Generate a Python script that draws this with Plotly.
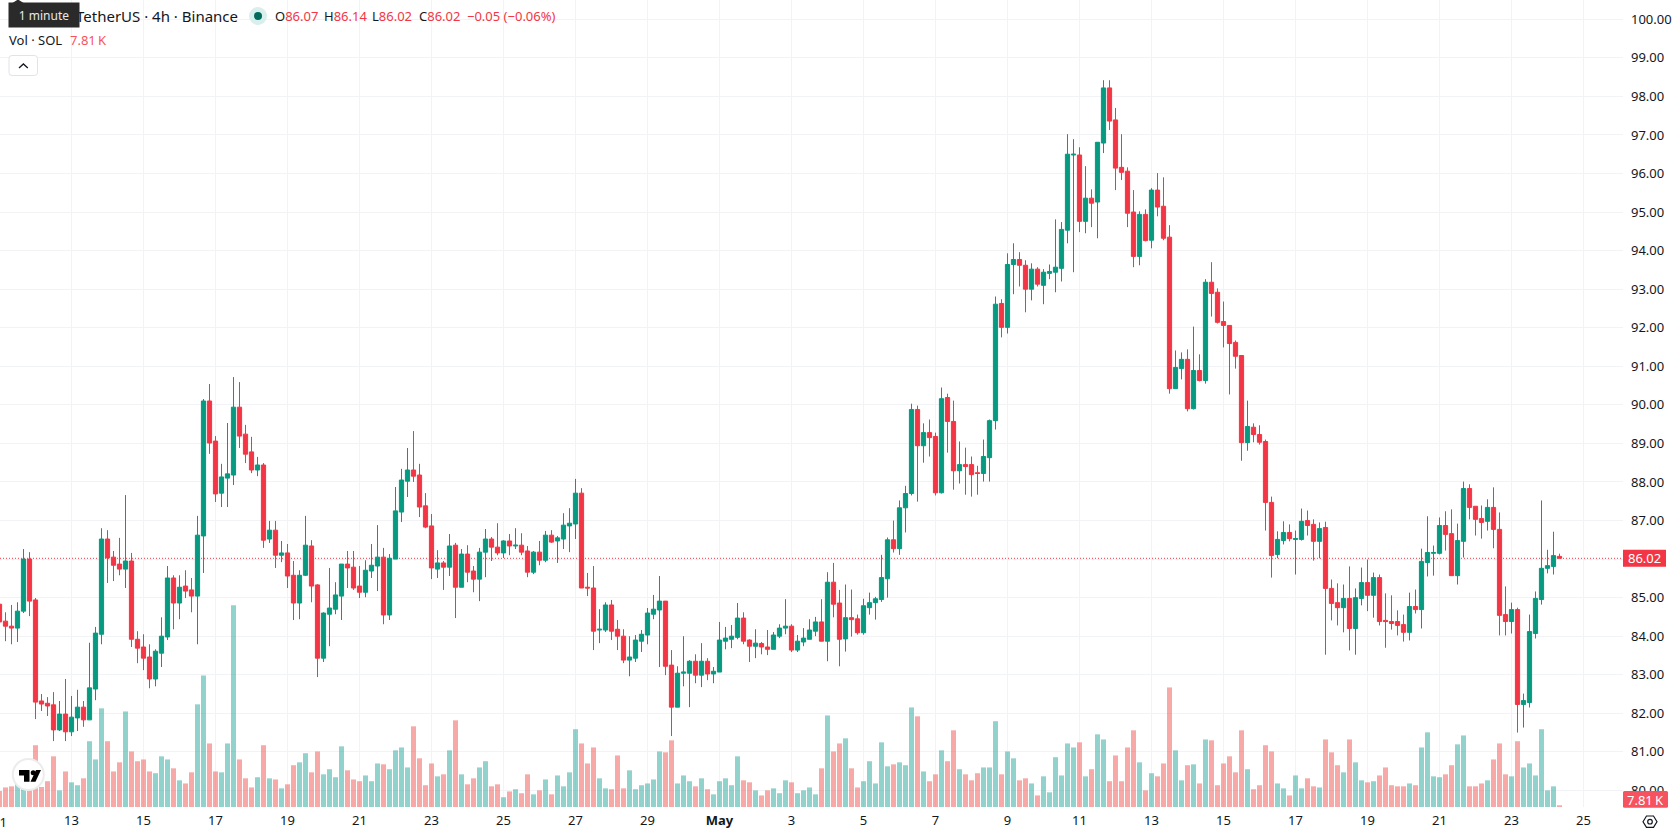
import pandas as pd
import plotly.graph_objects as go

# 4h candles for SOL/USDT, oldest first
OPEN = [
    84.83,84.39,84.26,84.21,84.65,86.00,84.94,82.32,82.26,82.22,
    81.57,81.98,81.52,81.88,82.16,81.83,82.63,84.05,86.52,86.05,
    85.87,85.74,85.95,83.92,83.72,83.46,82.89,83.56,83.98,85.51,
    84.86,85.30,85.20,85.04,86.60,90.10,89.06,87.71,88.10,88.18,
    89.94,89.24,88.78,88.31,88.44,86.52,86.75,86.10,86.16,85.58,
    84.86,85.58,86.34,85.33,83.43,84.57,84.70,85.04,85.87,85.79,
    85.30,85.14,85.69,85.82,86.05,84.55,86.00,87.22,88.02,88.31,
    88.18,87.38,86.86,85.74,85.90,85.79,86.36,85.27,86.13,85.69,
    85.48,86.18,86.52,86.31,86.16,86.47,86.34,86.36,86.21,85.66,
    86.18,85.97,86.62,86.47,86.52,86.86,86.91,87.71,85.27,85.25,
    84.16,84.16,84.81,84.18,84.00,83.38,83.43,83.87,84.03,84.57,
    84.68,84.91,83.25,82.16,83.04,83.04,83.35,82.99,83.35,83.02,
    83.07,83.87,83.92,83.97,84.47,83.90,83.74,83.81,83.72,83.66,
    84.00,84.21,84.26,83.64,83.85,83.92,84.13,84.37,83.87,85.40,
    84.86,83.93,84.48,84.45,84.09,84.74,84.87,84.95,85.49,86.50,
    86.27,87.33,87.70,89.88,88.94,89.28,89.18,87.72,90.19,89.57,
    88.29,88.45,88.45,88.24,88.22,88.63,89.59,92.63,92.01,93.64,
    93.77,93.62,93.00,93.52,93.10,93.41,93.44,93.54,94.53,96.48,
    96.48,94.76,95.36,95.26,96.79,98.22,97.39,96.16,96.06,95.00,
    93.85,94.94,94.27,95.57,95.15,94.35,90.42,90.94,91.18,89.90,
    90.89,90.63,93.18,92.92,92.16,92.06,91.62,91.28,89.02,89.42,
    89.23,89.05,87.47,86.12,86.48,86.69,86.51,86.51,87.00,86.90,
    86.46,86.82,85.24,84.87,84.74,84.98,84.20,84.98,85.39,85.06,
    85.52,84.41,84.38,84.38,84.30,84.10,84.77,84.69,85.91,86.15,
    86.15,86.87,86.66,85.57,86.46,87.83,87.37,87.05,86.98,87.34,
    86.77,84.56,84.38,84.69,82.23,82.28,84.07,84.95,85.76,85.81,
    86.07,
]
HIGH = [
    84.85,84.62,84.81,84.88,86.26,86.18,84.99,82.50,82.42,82.55,
    82.32,82.89,82.45,82.61,82.32,83.83,84.24,86.80,86.75,86.21,
    86.55,87.66,86.16,84.13,84.05,83.79,83.66,84.49,85.82,85.58,
    85.58,85.71,85.51,87.12,90.15,90.54,89.19,88.47,89.53,90.72,
    90.59,89.48,89.17,88.65,88.49,86.99,86.99,86.47,86.39,85.95,
    85.71,87.12,86.49,85.35,84.62,85.77,85.40,85.87,86.21,86.21,
    85.82,85.97,86.39,86.88,86.29,86.13,87.87,88.34,88.88,89.32,
    88.47,87.71,87.17,86.23,85.95,86.65,86.42,86.26,86.36,85.82,
    86.29,86.78,86.57,86.93,86.49,86.65,86.80,86.67,86.34,86.21,
    86.47,86.73,86.75,86.60,87.19,87.32,88.08,87.84,85.64,85.82,
    84.70,84.88,84.94,84.42,84.18,84.00,84.03,84.16,84.73,85.07,
    85.56,84.91,83.64,83.22,84.00,83.38,83.53,83.82,83.43,83.20,
    84.37,84.24,84.29,84.86,84.62,83.92,84.18,83.85,84.16,84.11,
    84.31,84.96,84.31,84.03,84.21,84.44,84.50,84.96,85.66,85.90,
    85.20,85.34,85.21,84.56,84.97,85.13,85.02,86.11,86.56,87.00,
    87.52,87.90,90.03,89.98,89.52,89.62,89.28,90.45,90.29,90.11,
    89.05,88.89,88.66,88.42,89.10,89.62,92.81,92.74,93.93,94.19,
    93.96,93.75,93.67,93.57,93.52,93.64,94.81,94.74,97.02,96.89,
    96.68,96.19,95.59,96.81,98.42,98.42,97.70,97.02,96.16,95.57,
    95.02,95.07,95.62,96.01,95.90,94.66,91.41,91.36,91.44,92.03,
    91.31,93.26,93.70,93.02,92.68,92.06,91.67,91.28,90.11,89.52,
    89.47,89.10,87.62,86.72,86.98,86.90,86.74,87.31,87.26,87.03,
    86.95,86.97,85.47,85.37,85.34,85.81,85.24,85.78,85.99,85.65,
    85.60,85.11,85.06,84.67,84.56,85.13,85.21,86.27,87.11,86.35,
    87.08,87.24,87.29,86.92,88.01,87.94,87.37,87.39,87.55,87.86,
    87.21,85.29,84.87,84.74,82.51,84.56,85.16,87.52,86.24,86.71,
    86.14,
]
LOW = [
    84.30,83.87,83.79,83.85,84.60,84.52,81.85,82.06,81.93,81.28,
    81.54,81.28,81.41,81.54,81.65,81.83,82.34,83.79,85.38,85.43,
    85.58,85.25,83.72,83.30,83.12,82.65,82.70,83.20,83.90,84.18,
    84.44,84.99,84.62,83.79,85.64,88.73,87.48,87.35,87.35,87.92,
    88.88,88.49,88.23,88.15,86.29,86.42,85.77,85.92,85.25,84.42,
    84.44,85.56,84.88,82.94,83.33,83.74,84.57,84.42,85.25,85.20,
    84.99,85.01,85.51,85.17,84.31,84.42,86.00,86.96,87.61,88.00,
    87.09,86.80,85.48,85.51,85.20,85.56,84.47,85.27,85.40,85.14,
    84.91,85.53,85.95,86.10,86.03,86.10,86.26,86.10,85.53,85.61,
    85.84,85.92,86.42,85.90,86.26,86.18,86.52,85.25,85.04,83.64,
    83.82,84.11,83.90,83.64,83.30,82.96,83.33,83.59,83.79,84.44,
    83.20,82.99,81.41,82.16,82.70,82.16,82.78,82.68,82.86,82.78,
    83.07,83.66,83.69,83.92,83.79,83.33,83.43,83.53,83.51,83.66,
    83.95,84.05,83.59,83.59,83.74,83.92,84.00,83.87,83.35,84.49,
    83.22,83.60,83.99,84.04,84.04,84.56,84.43,84.89,85.00,86.17,
    86.11,86.69,87.65,87.49,88.50,88.66,87.65,87.70,88.76,87.80,
    87.96,87.67,87.62,87.67,88.01,88.01,89.36,91.75,91.85,92.87,
    93.07,92.40,92.71,93.07,92.61,93.26,92.92,93.20,94.19,93.44,
    94.48,94.45,94.61,94.32,96.53,97.13,95.57,95.83,94.61,93.57,
    93.62,94.24,94.06,94.89,94.27,90.29,90.42,90.66,89.83,89.88,
    90.61,90.55,92.29,92.11,91.49,90.27,90.94,88.55,88.81,89.03,
    88.97,86.74,85.52,86.02,86.38,86.46,85.60,86.48,86.61,85.96,
    86.02,83.52,84.41,84.28,84.10,83.63,83.52,84.80,84.65,84.48,
    84.28,83.70,84.17,84.02,83.86,83.89,84.59,84.20,85.55,85.57,
    86.12,86.22,85.57,85.34,86.04,87.03,86.61,86.53,86.74,86.28,
    84.02,84.02,84.07,81.50,81.63,82.15,83.94,84.82,85.63,85.60,
    86.02,
]
CLOSE = [
    84.37,84.26,84.21,84.65,86.00,84.91,82.29,82.24,82.19,81.57,
    81.98,81.52,81.90,82.16,81.83,82.66,84.08,86.52,86.03,85.84,
    85.74,85.95,83.92,83.69,83.43,82.89,83.61,84.00,85.51,84.86,
    85.27,85.17,85.04,86.62,90.10,89.01,87.69,88.13,88.21,89.94,
    89.19,88.72,88.31,88.44,86.49,86.75,86.10,86.16,85.56,84.86,
    85.58,86.36,85.30,83.43,84.60,84.73,85.07,85.87,85.77,85.25,
    85.14,85.71,85.84,86.05,84.55,86.02,87.25,88.05,88.31,88.15,
    87.35,86.83,85.77,85.90,85.79,86.34,85.27,86.13,85.66,85.48,
    86.18,86.52,86.31,86.16,86.47,86.34,86.36,86.18,85.66,86.18,
    85.97,86.62,86.44,86.55,86.88,86.93,87.71,85.25,85.25,84.13,
    84.18,84.81,84.13,84.00,83.38,83.46,83.90,84.05,84.60,84.70,
    84.91,83.22,82.16,83.04,83.07,83.35,82.99,83.35,83.02,83.09,
    83.90,83.95,84.00,84.47,83.87,83.74,83.82,83.72,83.66,84.03,
    84.21,84.26,83.64,83.87,83.95,84.16,84.37,83.87,85.40,84.83,
    83.92,84.48,84.43,84.09,84.79,84.87,84.97,85.52,86.50,86.27,
    87.33,87.70,89.88,88.94,89.28,89.15,87.72,90.16,89.57,88.29,
    88.45,88.40,88.19,88.22,88.66,89.59,92.61,92.01,93.64,93.77,
    93.62,93.00,93.52,93.13,93.44,93.46,93.57,94.55,96.50,96.50,
    94.76,95.36,95.23,96.81,98.22,97.36,96.14,96.03,94.97,93.85,
    94.94,94.26,95.57,95.13,94.32,90.42,90.97,91.18,89.90,90.89,
    90.63,93.18,92.89,92.14,92.06,91.59,91.26,89.02,89.44,89.23,
    89.03,87.47,86.09,86.51,86.69,86.53,86.53,86.98,86.87,86.46,
    86.79,85.24,84.85,84.74,84.98,84.20,85.00,85.39,85.06,85.52,
    84.38,84.38,84.33,84.28,84.10,84.77,84.69,85.94,86.17,86.17,
    86.87,86.64,85.57,86.48,87.83,87.34,87.03,86.95,87.34,86.77,
    84.54,84.38,84.69,82.23,82.33,84.12,84.98,85.76,85.83,86.09,
    86.02,
]
# Volume per candle, thousands of SOL
VOLUME_K = [
    72,88,93,105,90,98,278,90,116,228,
    75,160,111,98,129,296,214,444,296,160,
    201,430,250,206,214,160,152,228,214,174,
    120,106,156,462,592,286,160,156,286,908,
    214,129,88,134,278,129,124,84,102,188,
    201,242,156,250,147,170,134,273,165,124,
    116,142,116,196,192,170,255,268,178,363,
    219,98,196,138,147,255,390,147,102,129,
    178,206,93,102,44,70,80,62,147,57,
    75,124,57,142,93,156,350,286,196,268,
    129,84,80,232,84,165,80,98,106,124,
    250,246,300,106,142,116,93,129,80,57,
    116,129,98,228,120,111,75,52,75,84,
    62,120,111,62,75,88,57,174,412,250,
    286,309,174,88,116,206,106,291,183,192,
    201,188,448,408,160,116,147,255,206,345,
    170,147,120,152,178,178,386,147,250,219,
    120,129,106,52,138,66,224,142,286,268,
    291,138,170,327,304,116,232,116,268,345,
    201,75,152,138,196,538,255,120,188,192,
    106,304,300,98,196,228,156,345,170,80,
    98,278,250,106,84,52,142,84,129,93,
    88,304,246,188,156,304,201,120,111,116,
    142,178,98,93,93,106,98,268,336,138,
    134,147,188,282,322,93,93,106,120,214,
    286,147,138,296,178,196,142,350,75,93,
    7.81,
]
CANDLE_START = "2026-04-11 00:00"
TICK_DATES = [
    "2026-04-13","2026-04-15","2026-04-17","2026-04-19","2026-04-21","2026-04-23",
    "2026-04-25","2026-04-27","2026-04-29","2026-05-01","2026-05-03","2026-05-05",
    "2026-05-07","2026-05-09","2026-05-11","2026-05-13","2026-05-15","2026-05-17",
    "2026-05-19","2026-05-21","2026-05-23","2026-05-25",
]
TICK_LABELS = [
    "13","15","17","19","21","23","25","27","29","<b>May</b>","3","5",
    "7","9","11","13","15","17","19","21","23","25",
]
PRICE_TICKS = [80 + i for i in range(21)]

UP = "#089981"
DOWN = "#F23645"
VOL_UP = "rgba(38,166,154,0.5)"
VOL_DOWN = "rgba(239,83,80,0.5)"
TEXT = "#131722"
GRID = "#F2F3F6"
FONT = "Noto Sans, Open Sans, sans-serif"

FIG_W, FIG_H = 1678, 835
PANE_W, PANE_H = 1623, 807


def fx(px):
    return px / PANE_W


def fy(py):
    return 1 - py / PANE_H


def poly(points, close=True):
    head = "M" + " L".join(f"{fx(x):.6f},{fy(y):.6f}" for x, y in points)
    return head + (" Z" if close else "")


def rounded(x0, y0, x1, y1, r):
    return (
        f"M{fx(x0+r):.6f},{fy(y0):.6f} L{fx(x1-r):.6f},{fy(y0):.6f} "
        f"Q{fx(x1):.6f},{fy(y0):.6f} {fx(x1):.6f},{fy(y0+r):.6f} "
        f"L{fx(x1):.6f},{fy(y1-r):.6f} Q{fx(x1):.6f},{fy(y1):.6f} {fx(x1-r):.6f},{fy(y1):.6f} "
        f"L{fx(x0+r):.6f},{fy(y1):.6f} Q{fx(x0):.6f},{fy(y1):.6f} {fx(x0):.6f},{fy(y1-r):.6f} "
        f"L{fx(x0):.6f},{fy(y0+r):.6f} Q{fx(x0):.6f},{fy(y0):.6f} {fx(x0+r):.6f},{fy(y0):.6f} Z"
    )


def paper_shape(path, fill="rgba(0,0,0,0)", line=None, width=1):
    return dict(
        type="path", xref="paper", yref="paper", path=path, layer="above",
        fillcolor=fill, line=dict(color=line or "rgba(0,0,0,0)", width=width if line else 0),
    )


def paper_circle(cx, cy, r, fill="rgba(0,0,0,0)", line=None, width=1):
    return dict(
        type="circle", xref="paper", yref="paper", layer="above",
        x0=fx(cx - r), x1=fx(cx + r), y0=fy(cy + r), y1=fy(cy - r),
        fillcolor=fill, line=dict(color=line or "rgba(0,0,0,0)", width=width if line else 0),
    )


def label(px, py, text, color=TEXT, size=13, anchor="left", **extra):
    return dict(
        xref="paper", yref="paper", x=fx(px), y=fy(py), text=text, showarrow=False,
        xanchor=anchor, yanchor="middle", borderpad=0,
        font=dict(family=FONT, size=size, color=color), **extra,
    )


times = pd.date_range(CANDLE_START, periods=len(OPEN), freq="4h")
volume_colors = [VOL_UP if c >= o else VOL_DOWN for o, c in zip(OPEN, CLOSE)]
last_close = CLOSE[-1]

fig = go.Figure()
fig.add_trace(go.Bar(
    x=times, y=VOLUME_K, yaxis="y", marker=dict(color=volume_colors, line=dict(width=0)),
    hoverinfo="skip", showlegend=False,
))
fig.add_trace(go.Candlestick(
    x=times, open=OPEN, high=HIGH, low=LOW, close=CLOSE, yaxis="y2", whiskerwidth=0,
    increasing=dict(line=dict(color=UP, width=1), fillcolor=UP),
    decreasing=dict(line=dict(color=DOWN, width=1), fillcolor=DOWN),
    hoverinfo="skip", showlegend=False,
))

shapes = [
    # last price line and its tag on the scale
    dict(type="line", xref="paper", yref="y2", x0=0, x1=1, y0=last_close, y1=last_close,
         layer="below", line=dict(color=DOWN, width=1, dash="1px,2px")),
    dict(type="rect", xref="paper", yref="y2", ysizemode="pixel", yanchor=last_close,
         x0=fx(1623), x1=fx(1666), y0=-8.5, y1=8.5, layer="above",
         fillcolor=DOWN, line=dict(width=0)),
    # volume tag
    paper_shape(rounded(1623, 791, 1668, 807.7, 1.5), fill="#F7525F"),
    # tooltip pointer
    paper_shape(poly([(12, 3.2), (18, -0.5), (24, 3.2)]), fill="#2A2A2A"),
    # status dot beside the symbol line
    paper_circle(258, 16, 9, fill="#D9EFEB"),
    paper_circle(258, 16, 4, fill="#006B5E"),
    # collapse button
    paper_shape(rounded(9, 55.5, 37.5, 75.5, 3), fill="#FFFFFF", line="#E0E3EB"),
    paper_shape(poly([(19, 68), (23.4, 64), (27.8, 68)], close=False), line="#131722", width=1.3),
    # logo badge
    paper_circle(28.3, 774.5, 15.5, fill="#FFFFFF", line="#ECECEC", width=2),
    paper_shape(poly([(19, 770), (29.5, 770), (29.5, 781.7), (24, 781.7), (24, 775.4), (19, 775.4)]), fill="#000000"),
    paper_circle(33.2, 772.7, 2.5, fill="#000000"),
    paper_shape(poly([(36, 770), (41, 770), (35.5, 781.7), (30.5, 781.7)]), fill="#000000"),
    # settings icon
    paper_shape(poly([(1643, 821.7), (1646.5, 816), (1653.5, 816), (1657, 821.7), (1653.5, 827.4), (1646.5, 827.4)]), line="#131722", width=1.2),
    paper_circle(1650, 821.7, 2.3, line="#131722", width=1.2),
]

annotations = [
    label(74.5, 16, "TetherUS · 4h · Binance", size=15),
    # the tooltip sits on top of the start of the symbol line
    label(44, 15, "1 minute", color="#E8E8E8", size=12, anchor="center",
          bgcolor="#2A2A2A", width=70, height=24, align="center"),
    label(273.5, 16, f'O<span style="color:{DOWN}">{OPEN[-1]:.2f}</span>'),
    label(323, 16, f'H<span style="color:{DOWN}">{HIGH[-1]:.2f}</span>'),
    label(371, 16, f'L<span style="color:{DOWN}">{LOW[-1]:.2f}</span>'),
    label(418, 16, f'C<span style="color:{DOWN}">{CLOSE[-1]:.2f}</span>'),
    label(466, 16, "−0.05 (−0.06%)", color=DOWN),
    label(8, 40, "Vol · SOL"),
    label(69, 40, "7.81\u2009K", color="#F7525F"),
    # first day label, half cut off by the left edge of the pane
    label(-0.5, 821.5, "11", anchor="center"),
    dict(xref="paper", yref="y2", x=fx(1644.5), y=last_close, text=f"{last_close:.2f}",
         showarrow=False, xanchor="center", yanchor="middle",
         font=dict(family=FONT, size=13, color="#FFFFFF")),
    label(1645.5, 799.5, "7.81\u2009K", color="#FFFFFF", anchor="center"),
]

fig.update_layout(
    width=FIG_W, height=FIG_H, autosize=False,
    margin=dict(l=0, r=FIG_W - PANE_W, t=0, b=FIG_H - PANE_H, pad=0),
    paper_bgcolor="#FFFFFF", plot_bgcolor="#FFFFFF",
    font=dict(family=FONT, size=13, color=TEXT),
    bargap=0.17, boxgap=0.0, hovermode=False, dragmode=False, showlegend=False,
    xaxis=dict(
        type="date", range=["2026-04-11 00:20", "2026-05-26 02:20"],
        tickmode="array", tickvals=TICK_DATES, ticktext=TICK_LABELS,
        showgrid=True, gridcolor=GRID, gridwidth=1, zeroline=False, showline=False,
        ticks="", ticklabelstandoff=4, tickangle=0, tickfont=dict(size=13, color=TEXT),
        rangeslider=dict(visible=False), fixedrange=True,
    ),
    yaxis=dict(
        range=[0, PANE_H * 4.5], visible=False, showgrid=False, zeroline=False, fixedrange=True,
    ),
    yaxis2=dict(
        overlaying="y", side="right", range=[79.57, 100.5],
        tickmode="array", tickvals=PRICE_TICKS, ticktext=[f"{v:.2f}" for v in PRICE_TICKS],
        showgrid=True, gridcolor=GRID, gridwidth=1, zeroline=False, showline=False,
        ticks="", ticklabelstandoff=7, tickfont=dict(size=13, color=TEXT), fixedrange=True,
    ),
    shapes=shapes,
    annotations=annotations,
)

fig.write_html("out.html", config={"displayModeBar": False})
